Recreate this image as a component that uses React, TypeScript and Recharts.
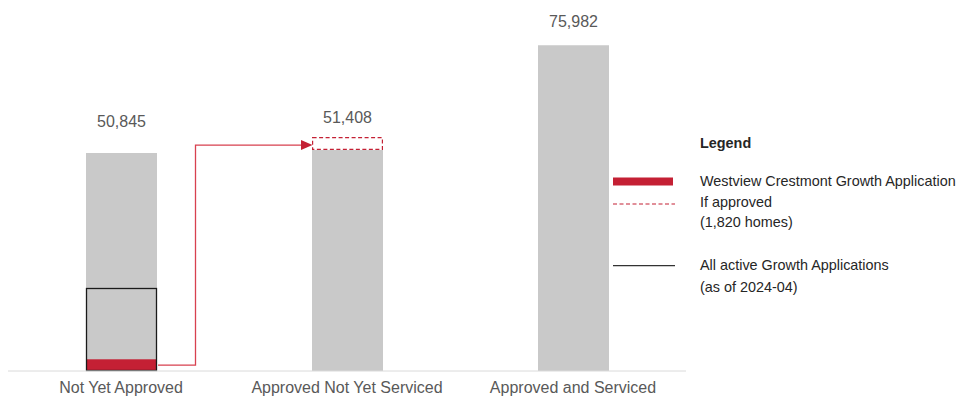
import React from 'react';
import { BarChart, Bar, XAxis, YAxis, Legend, LabelList } from 'recharts';

// ---- data ----
const categories = ['Not Yet Approved', 'Approved Not Yet Serviced', 'Approved and Serviced'];
const totalLabels = [50845, 51408, 75982];
const baseValues = [50845, 51550, 75982];
const ifApprovedValues = [0, 3000, 0];
const westviewValues = [2730, 0, 0];
const activeAppsValues = [19360, 0, 0];
const legendTitle = 'Legend';
const legendWestview = ['Westview Crestmont Growth Application'];
const legendIfApproved = ['If approved', '(1,820 homes)'];
const legendActive = ['All active Growth Applications', '(as of 2024-04)'];

// ---- layout / style ----
const W = 956;
const H = 401;
const MARGIN = { top: 28, right: 270, bottom: 0, left: 8 };
const XAXIS_H = 30;
const PLOT_BOTTOM = H - MARGIN.bottom - XAXIS_H;
const BAND = (W - MARGIN.left - MARGIN.right) / categories.length;
const BAR_W = 71;
const LABEL_GAP = [26.5, 14, 18];
const FONT = '"Liberation Sans", Arial, sans-serif';
const GRAY = '#c9c9c9';
const RED = '#c42034';
const TEXT = '#595959';

const data = categories.map((name, i) => ({
  name,
  total: totalLabels[i],
  base: baseValues[i],
  ifApproved: ifApprovedValues[i],
  westview: westviewValues[i],
  active: activeAppsValues[i],
}));

const fmt = (v: number) => v.toLocaleString('en-US');

const makeLabel = (which: 'base' | 'ifApproved') => (props: any) => {
  const { x, y, width, value, index } = props;
  const hasInc = ifApprovedValues[index] > 0;
  if (which === 'base' && hasInc) return null;
  if (which === 'ifApproved' && !hasInc) return null;
  return (
    <text
      x={Number(x) + Number(width) / 2}
      y={Number(y) - LABEL_GAP[index]}
      textAnchor="middle"
      fill={TEXT}
      fontSize={16}
      fontFamily={FONT}
    >
      {fmt(Number(value))}
    </text>
  );
};

const DashedShape = (props: any) => {
  const { x, y, width, height, payload } = props;
  if (!height || height <= 0) return null;
  const k = height / payload.ifApproved; // px per unit from the bar's own scale
  const redMid = PLOT_BOTTOM - (westviewValues[0] * k) / 2;
  const startX = x - BAND + width;
  const midX = startX + 38.5;
  const arrowY = y + height * 0.62;
  return (
    <g>
      <rect
        x={x + 0.6}
        y={y + 0.6}
        width={width - 1.2}
        height={height - 1.2}
        fill="#ffffff"
        stroke={RED}
        strokeWidth={1.2}
        strokeDasharray="4 2.5"
      />
      <path
        d={`M${startX + 1},${redMid} H${midX} V${arrowY} H${x - 10}`}
        fill="none"
        stroke="#d8404f"
        strokeWidth={1.3}
      />
      <polygon
        points={`${x - 11},${arrowY - 5} ${x + 0.5},${arrowY} ${x - 11},${arrowY + 5}`}
        fill={RED}
      />
    </g>
  );
};

const RedShape = (props: any) => {
  const { x, y, width, height } = props;
  if (!height || height <= 0) return null;
  return <rect x={x} y={y} width={width} height={height} fill={RED} />;
};

const BoxShape = (props: any) => {
  const { x, y, width, height } = props;
  if (!height || height <= 0) return null;
  return (
    <rect
      x={x + 0.5}
      y={y + 0.5}
      width={width - 1}
      height={height - 1}
      fill="none"
      stroke="#1a1a1a"
      strokeWidth={1.3}
    />
  );
};

const LegendContent = () => {
  const tx = 100;
  return (
    <svg width={356} height={185} style={{ display: 'block', overflow: 'visible' }}>
      <g fontFamily={FONT} fontSize={14.4} fill="#262626">
        <text x={tx} y={28} fontWeight="bold">{legendTitle}</text>
        <rect x={13} y={57.5} width={60} height={8} fill={RED} />
        {legendWestview.map((t, i) => (
          <text key={t} x={tx} y={66 + i * 20}>{t}</text>
        ))}
        <line x1={13} x2={75} y1={84} y2={84} stroke={RED} strokeWidth={1.2} strokeDasharray="4 2.5" />
        {legendIfApproved.map((t, i) => (
          <text key={t} x={tx} y={86.7 + i * 20}>{t}</text>
        ))}
        <line x1={13} x2={75} y1={145.7} y2={145.7} stroke="#333333" strokeWidth={1.3} />
        {legendActive.map((t, i) => (
          <text key={t} x={tx} y={150 + i * 21.7}>{t}</text>
        ))}
      </g>
    </svg>
  );
};

export default function App() {
  return (
    <div style={{ position: 'absolute', left: 0, top: 0, width: W, height: H, background: '#fff' }}>
      <BarChart
        width={W}
        height={H}
        data={data}
        margin={MARGIN}
        barSize={BAR_W}
        barGap={-BAR_W}
      >
        <XAxis
          dataKey="name"
          height={XAXIS_H}
          tickLine={false}
          tickSize={0}
          tickMargin={11}
          axisLine={{ stroke: '#dadada', strokeWidth: 1 }}
          tick={{ fill: TEXT, fontSize: 16, fontFamily: FONT }}
          interval={0}
        />
        <YAxis hide domain={[0, 80000]} />
        <Legend
          layout="horizontal"
          verticalAlign="middle"
          align="center"
          content={<LegendContent />}
          wrapperStyle={{ position: 'absolute', left: 600, top: 120, width: 356, height: 185 }}
        />
        <Bar dataKey="base" stackId="main" fill={GRAY} isAnimationActive={false}>
          <LabelList dataKey="total" content={makeLabel('base')} />
        </Bar>
        <Bar dataKey="ifApproved" stackId="main" shape={DashedShape} isAnimationActive={false}>
          <LabelList dataKey="total" content={makeLabel('ifApproved')} />
        </Bar>
        <Bar dataKey="westview" stackId="red" shape={RedShape} isAnimationActive={false} />
        <Bar dataKey="active" stackId="box" shape={BoxShape} isAnimationActive={false} />
      </BarChart>
    </div>
  );
}
